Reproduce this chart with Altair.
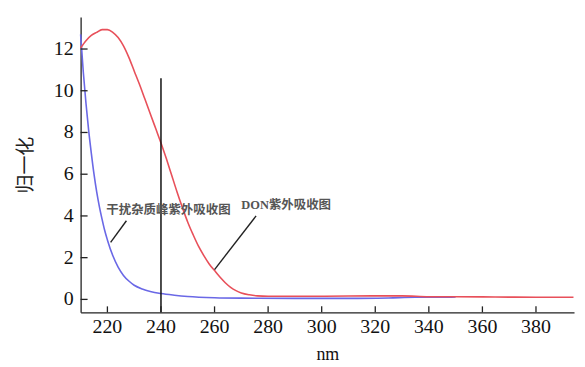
import altair as alt
import pandas as pd

# ---- data ----
blue_nm = [210, 211, 212, 213, 214, 215, 216, 217, 218, 219, 220, 222, 224, 226, 228, 230, 233, 236, 240,
           245, 250, 260, 270, 290, 310, 325, 335, 345, 350]
blue_val = [12.7, 10.9, 9.4, 8.1, 7.0, 6.0, 5.15, 4.45, 3.85, 3.3, 2.85, 2.1, 1.55, 1.15, 0.88, 0.68, 0.5,
            0.38, 0.28, 0.2, 0.14, 0.08, 0.06, 0.05, 0.05, 0.07, 0.1, 0.1, 0.12]

red_nm = [210, 212, 214, 216, 218, 220, 222, 224, 226, 228, 230, 232, 234, 236, 238, 240, 242, 244, 246,
          248, 250, 252, 254, 256, 258, 260, 262, 264, 266, 268, 270, 273, 276, 280, 300, 320, 330, 340,
          360, 370, 380, 394]
red_val = [12.05, 12.4, 12.65, 12.8, 12.93, 12.93, 12.8, 12.55, 12.15, 11.6, 10.95, 10.3, 9.6, 8.9, 8.2,
           7.5, 6.75, 5.95, 5.15, 4.4, 3.7, 3.1, 2.55, 2.1, 1.7, 1.38, 1.07, 0.8, 0.58, 0.42, 0.31, 0.22,
           0.17, 0.15, 0.15, 0.17, 0.17, 0.13, 0.12, 0.11, 0.1, 0.1]

x_ticks = [220, 240, 260, 280, 300, 320, 340, 360, 380]
y_ticks = [0, 2, 4, 6, 8, 10, 12]

marker_nm = [240]
marker_top = [10.6]

label_text = ["干扰杂质峰紫外吸收图", "DON紫外吸收图"]
label_nm = [219.6, 270.0]
label_val = [4.28, 4.5]

leader_nm = [227.1, 221.2, 275.5, 260.0]
leader_val = [3.77, 2.73, 4.0, 1.43]
leader_id = ["a", "a", "b", "b"]

X_DOMAIN = [210, 394.2]
Y_DOMAIN = [-0.62, 13.54]
W, H = 496, 297
SERIF = "Liberation Serif, Times New Roman, serif"

blue_df = pd.DataFrame({"nm": blue_nm, "v": blue_val})
red_df = pd.DataFrame({"nm": red_nm, "v": red_val})
xt_df = pd.DataFrame({"t": x_ticks, "s": [str(t) for t in x_ticks]})
yt_df = pd.DataFrame({"t": y_ticks, "s": [str(t) for t in y_ticks]})
mk_df = pd.DataFrame({"nm": marker_nm, "top": marker_top, "bot": [Y_DOMAIN[0]] * len(marker_nm)})
lab_df = pd.DataFrame({"nm": label_nm, "v": label_val, "txt": label_text})
lead_df = pd.DataFrame({"nm": leader_nm, "v": leader_val, "id": leader_id})

xs = alt.Scale(domain=X_DOMAIN, nice=False, zero=False)
ys = alt.Scale(domain=Y_DOMAIN, nice=False, zero=False)

x_axis = alt.Axis(values=x_ticks, ticks=False, labels=False, grid=False, domainColor="#222",
                  domainWidth=1.3, title="nm", titleFont=SERIF, titleFontSize=18,
                  titleFontWeight="normal", titleColor="#111", titlePadding=33)
y_axis = alt.Axis(values=y_ticks, ticks=False, labels=False, grid=False, domainColor="#222",
                  domainWidth=1.3, title="归一化", titleFont="Noto Sans CJK SC", titleFontSize=19,
                  titleFontWeight="normal", titleColor="#222", titlePadding=45)

nx = alt.X("nm:Q", scale=xs, axis=x_axis)
vy = alt.Y("v:Q", scale=ys, axis=y_axis)

blue = alt.Chart(blue_df).mark_line(color="#6a68e6", strokeWidth=1.6, interpolate="monotone").encode(
    x=nx, y=vy)
red = alt.Chart(red_df).mark_line(color="#e8505a", strokeWidth=1.6, interpolate="monotone").encode(
    x=nx, y=vy)

marker = alt.Chart(mk_df).mark_rule(color="#111", strokeWidth=1.5).encode(
    x=nx, y=alt.Y("bot:Q", scale=ys, axis=y_axis), y2="top:Q")

xticks = alt.Chart(xt_df).mark_rule(color="#222", strokeWidth=1.3).encode(
    x=alt.X("t:Q", scale=xs, axis=x_axis), y=alt.value(H), y2=alt.value(H - 6))
yticks = alt.Chart(yt_df).mark_rule(color="#222", strokeWidth=1.3).encode(
    y=alt.Y("t:Q", scale=ys, axis=y_axis), x=alt.value(0), x2=alt.value(7))

xlabels = alt.Chart(xt_df).mark_text(font=SERIF, fontSize=20, color="#111", align="center",
                                     baseline="top").encode(
    x=alt.X("t:Q", scale=xs, axis=x_axis), y=alt.value(H + 5), text="s:N")
ylabels = alt.Chart(yt_df).mark_text(font=SERIF, fontSize=20, color="#111", align="right",
                                     baseline="middle").encode(
    y=alt.Y("t:Q", scale=ys, axis=y_axis), x=alt.value(-7), text="s:N")

leaders = alt.Chart(lead_df).mark_line(color="#222", strokeWidth=1.4).encode(
    x=nx, y=vy, detail="id:N")

labels = alt.Chart(lab_df).mark_text(align="left", baseline="middle",
                                     font="Liberation Serif, Noto Sans CJK SC",
                                     fontSize=12.5, color="#555", fontWeight="bold").encode(
    x=nx, y=vy, text="txt:N")

chart = alt.layer(blue, red, marker, xticks, yticks, xlabels, ylabels, leaders, labels).properties(
    width=W, height=H, background="white",
    padding={"left": 9, "top": 8, "right": 0, "bottom": 0}
).configure_view(stroke=None)

chart.save("out.html", embed_options={"renderer": "svg", "actions": False})
